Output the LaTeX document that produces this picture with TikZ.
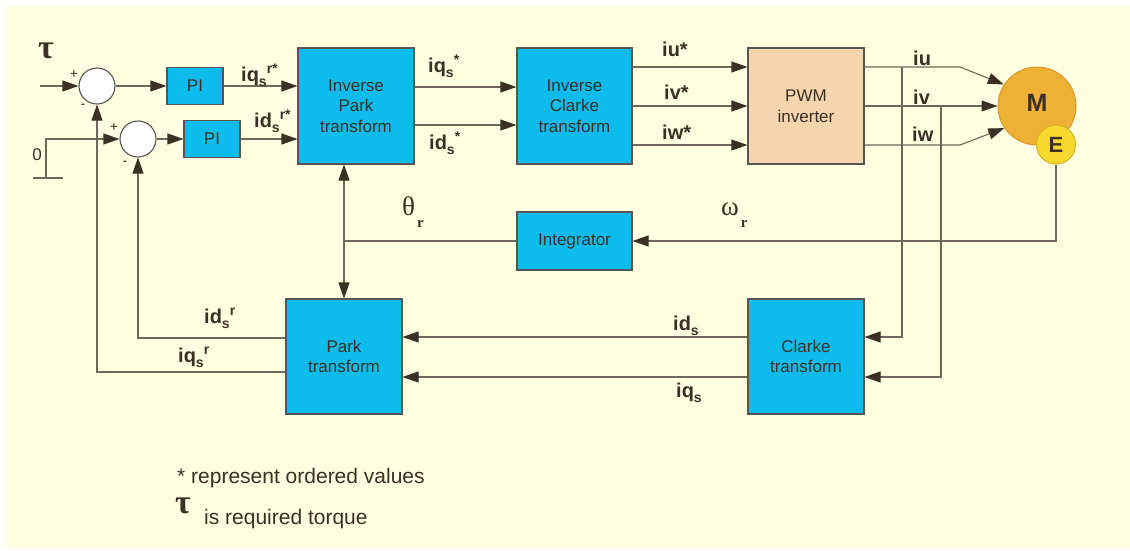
\documentclass[tikz,border=0pt]{standalone}
\usepackage{fontspec}
\setmainfont{Liberation Sans}
\newfontfamily\greekserif{Liberation Serif}
\usetikzlibrary{arrows.meta}

\definecolor{panel}{HTML}{FFFFE1}
\definecolor{cyanbox}{HTML}{0DBBEC}
\definecolor{pwmtan}{HTML}{F5D5AD}
\definecolor{motorfill}{HTML}{EFB036}
\definecolor{motoredge}{HTML}{D99A2C}
\definecolor{encfill}{HTML}{F7D82E}
\definecolor{encedge}{HTML}{D6B21E}
\definecolor{ink}{HTML}{3A3024}
\definecolor{wirec}{HTML}{6F6759}
\definecolor{edge}{HTML}{555555}

% signal label: main text, subscript, superscript (staggered)
\newcommand\sigsmall{\fontsize{14}{14}\selectfont\bfseries}
\newcommand\sig[3]{#1\raisebox{-5pt}{\sigsmall #2}\raisebox{8pt}{\sigsmall #3}}
\newcommand\angsig[2]{{\greekserif\fontsize{27}{27}\selectfont #1}\kern2pt\raisebox{-12pt}{\greekserif\fontsize{15}{15}\selectfont\bfseries #2}}

\tikzset{
  wire/.style={draw=wirec, line width=1.1pt},
  arr/.style={wire, -{Triangle[length=16pt,width=11pt,color=ink]}},
  blk/.style={draw=edge, line width=1.1pt, fill=cyanbox, text=ink, align=center,
    font=\fontsize{17}{20.5}\selectfont, inner sep=0pt},
  sumpt/.style={circle, draw=edge, fill=white, line width=1.1pt, minimum size=36pt, inner sep=0pt},
  lbl/.style={text=ink, inner sep=0pt, anchor=base west, font=\fontsize{20}{20}\selectfont\bfseries},
  sign/.style={text=ink, inner sep=0pt, font=\fontsize{14}{14}\selectfont},
  note/.style={text=ink, inner sep=0pt, anchor=base west, font=\fontsize{21}{21}\selectfont},
  bigtau/.style={text=ink, inner sep=0pt, anchor=base west, font=\greekserif\fontsize{34}{34}\selectfont\bfseries},
}

\begin{document}
\begin{tikzpicture}[x=1pt,y=-1pt]
\useasboundingbox (0,0) rectangle (1130,550);
\fill[white] (0,0) rectangle (1130,550);
\fill[panel] (6,5) rectangle (1130,548);

% summing junctions and PI controllers
\node[sumpt] (sum1) at (97,86) {};
\node[sumpt] (sum2) at (138,139) {};
\node[blk, minimum width=56pt, minimum height=37pt] (pi1) at (195,86) {PI};
\node[blk, minimum width=56pt, minimum height=37pt] (pi2) at (212,139) {PI};

% transform blocks
\node[blk, minimum width=116pt, minimum height=116pt] (ipark) at (356,106) {Inverse\\Park\\transform};
\node[blk, minimum width=115pt, minimum height=116pt] (iclarke) at (574.5,106) {Inverse\\Clarke\\transform};
\node[blk, fill=pwmtan, minimum width=116pt, minimum height=116pt] (pwm) at (806,106) {PWM\\inverter};
\node[blk, minimum width=115pt, minimum height=58pt] (integ) at (574.5,241) {Integrator};
\node[blk, minimum width=116pt, minimum height=115pt] (park) at (344,356.5) {Park\\transform};
\node[blk, minimum width=116pt, minimum height=115pt] (clarke) at (806,356.5) {Clarke\\transform};

% motor and encoder
\node[circle, draw=motoredge, fill=motorfill, line width=1pt, minimum size=78pt, inner sep=0pt] (motor) at (1037,106) {};
\node[text=ink, font=\fontsize{25}{25}\selectfont\bfseries, inner sep=0pt] (mlabel) at (1037,103) {M};
\node[circle, draw=encedge, fill=encfill, line width=1pt, minimum size=39pt, inner sep=0pt,
      text=ink, font=\fontsize{22}{22}\selectfont\bfseries] (enc) at (1056,144.5) {E};

% torque reference input
\coordinate (tauin) at (40,86);
\draw[arr] (tauin) -- (sum1.west);
\node[bigtau] (tau) at (38,58) {τ};

% zero d-axis reference
\coordinate (gnd) at (46,178);
\coordinate (gndl) at (33,178);
\coordinate (gndr) at (63,178);
\draw[wire] (gndl) -- (gndr);
\draw[arr] (gnd) |- (sum2.west);
\node[text=ink, inner sep=0pt, font=\fontsize{17}{17}\selectfont] (zero) at (37,155) {0};

% signs at the junctions
\node[sign] (p1) at (74,74) {+};
\node[sign] (m1) at (83,106) {-};
\node[sign] (p2) at (114,127) {+};
\node[sign] (m2) at (125,163) {-};

% forward path
\draw[arr] (sum1.east) -- (pi1.west);
\draw[arr] (sum2.east) -- (pi2.west);
\draw[arr] (pi1.east) -- (pi1.east -| ipark.west);
\draw[arr] (pi2.east) -- (pi2.east -| ipark.west);
\draw[arr] ([yshift=19pt]ipark.east) -- ([yshift=19pt]iclarke.west);
\draw[arr] ([yshift=-19pt]ipark.east) -- ([yshift=-19pt]iclarke.west);
\draw[arr] ([yshift=39pt]iclarke.east) -- ([yshift=39pt]pwm.west);
\draw[arr] (iclarke.east) -- (pwm.west);
\draw[arr] ([yshift=-39pt]iclarke.east) -- ([yshift=-39pt]pwm.west);

% phase currents to the motor
\coordinate (ubend) at (960,67);
\coordinate (wbend) at (960,145);
\draw[arr] ([yshift=39pt]pwm.east) -- (ubend) -- (motor.147);
\draw[arr] (pwm.east) -- (motor.west);
\draw[arr] ([yshift=-39pt]pwm.east) -- (wbend) -- (motor.214);

% current measurement taps to the Clarke transform
\coordinate (tapu) at (902,67);
\coordinate (tapv) at (941,106);
\draw[arr] (tapu) |- ([yshift=19.5pt]clarke.east);
\draw[arr] (tapv) |- ([yshift=-20.5pt]clarke.east);

% Clarke to Park
\draw[arr] ([yshift=19.5pt]clarke.west) -- ([yshift=19.5pt]clarke.west -| park.east);
\draw[arr] ([yshift=-20.5pt]clarke.west) -- ([yshift=-20.5pt]clarke.west -| park.east);

% feedback to the junctions
\draw[arr] ([yshift=18.5pt]park.west) -| (sum2.south);
\draw[arr] ([yshift=-15.5pt]park.west) -| (sum1.south);

% speed and rotor angle
\draw[arr] (enc.south) |- (integ.east);
\coordinate (thj) at (344,241);
\draw[wire] (integ.west) -- (thj);
\draw[arr] (thj) -- (thj |- ipark.south);
\draw[arr] (thj) -- (park.north);

% signal labels
\node[lbl] (l1) at (241,81) {\sig{iq}{s}{r*}};
\node[lbl] (l2) at (254,127) {\sig{id}{s}{r*}};
\node[lbl] (l3) at (428,72) {\sig{iq}{s}{*}};
\node[lbl] (l4) at (429,149) {\sig{id}{s}{*}};
\node[lbl] (l5) at (662,56) {iu*};
\node[lbl] (l6) at (664,99) {iv*};
\node[lbl] (l7) at (662,139) {iw*};
\node[lbl] (l8) at (913,65) {iu};
\node[lbl] (l9) at (913,104) {iv};
\node[lbl] (l10) at (912,141) {iw};
\node[lbl] (l11) at (204,323) {\sig{id}{s}{r}};
\node[lbl] (l12) at (178,362) {\sig{iq}{s}{r}};
\node[lbl] (l13) at (673,330) {\sig{id}{s}{}};
\node[lbl] (l14) at (676,397) {\sig{iq}{s}{}};
\node[text=ink, inner sep=0pt, anchor=base west] (theta) at (402,215) {\angsig{θ}{r}};
\node[text=ink, inner sep=0pt, anchor=base west] (omega) at (721,215) {\angsig{ω}{r}};

% notes
\node[note] (n1) at (177,483) {* represent ordered values};
\node[bigtau] (n2) at (175,513) {τ};
\node[note] (n3) at (204,524) {is required torque};
\end{tikzpicture}
\end{document}
